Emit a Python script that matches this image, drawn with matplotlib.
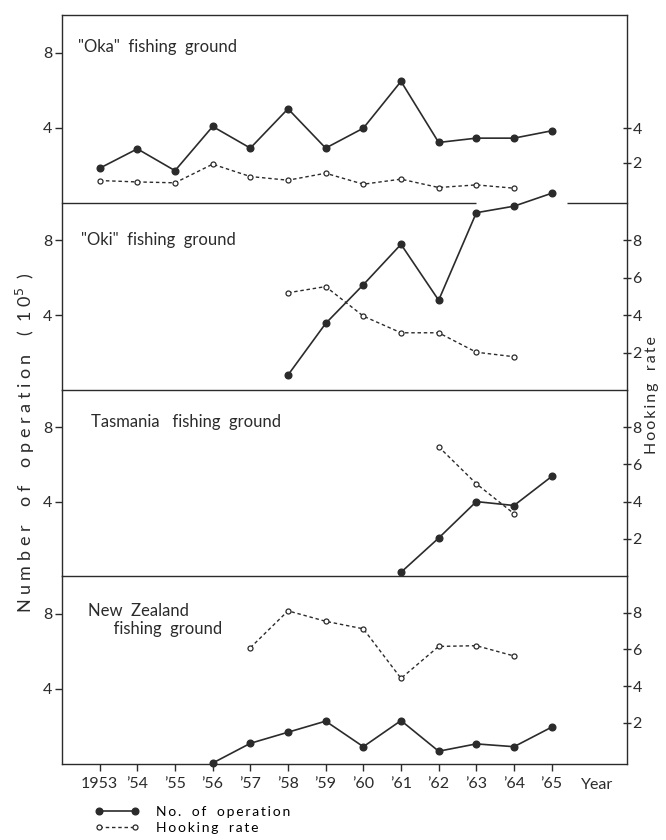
"""
Number of operations and hooking rate by fishing ground, 1953-1965.
Four stacked panels sharing the year axis; left scale = operations (10^5),
right scale = hooking rate.
"""

import matplotlib
matplotlib.use("Agg")
import matplotlib.pyplot as plt
from matplotlib.lines import Line2D

plt.rcParams.update({
    "font.family": ["Lato", "DejaVu Sans"],
    "font.size": 11,
    "xtick.labelsize": 11.5,
    "ytick.labelsize": 11.5,
    "axes.linewidth": 1.0,
})

INK = "#2b2b2b"

years = list(range(1953, 1966))
year_labels = ["1953", "’54", "’55", "’56", "’57", "’58", "’59",
               "’60", "’61", "’62", "’63", "’64", "’65"]

grounds = ['"Oka"  fishing  ground', '"Oki"  fishing  ground',
           "Tasmania   fishing  ground", "New  Zealand\n      fishing  ground"]

# No. of operation (10^5)
oka_ops_years = years
oka_ops = [1.85, 2.88, 1.72, 4.07, 2.92, 5.01, 2.92, 3.98, 6.47, 3.22, 3.45, 3.45, 3.84]
oki_ops_years = [1958, 1959, 1960, 1961, 1962, 1963, 1964, 1965]
oki_ops = [0.8, 3.56, 5.63, 7.79, 4.8, 9.48, 9.83, 10.52]
tas_ops_years = [1961, 1962, 1963, 1964, 1965]
tas_ops = [0.2, 2.04, 4.0, 3.79, 5.35]
nz_ops_years = [1956, 1957, 1958, 1959, 1960, 1961, 1962, 1963, 1964, 1965]
nz_ops = [0.05, 1.1, 1.69, 2.28, 0.92, 2.31, 0.68, 1.07, 0.92, 1.96]

# Hooking rate
oka_hook_years = years[:-1]
oka_hook = [0.99, 0.91, 0.86, 1.93, 1.22, 1.01, 1.41, 0.78, 1.07, 0.59, 0.74, 0.55]
oki_hook_years = [1958, 1959, 1960, 1961, 1962, 1963, 1964]
oki_hook = [5.2, 5.53, 3.95, 3.06, 3.06, 2.02, 1.78]
tas_hook_years = [1962, 1963, 1964]
tas_hook = [6.95, 4.96, 3.35]
nz_hook_years = [1957, 1958, 1959, 1960, 1961, 1962, 1963, 1964]
nz_hook = [6.09, 8.1, 7.53, 7.12, 4.42, 6.16, 6.2, 5.64]

ops_series = [(oka_ops_years, oka_ops), (oki_ops_years, oki_ops),
              (tas_ops_years, tas_ops), (nz_ops_years, nz_ops)]
hook_series = [(oka_hook_years, oka_hook), (oki_hook_years, oki_hook),
               (tas_hook_years, tas_hook), (nz_hook_years, nz_hook)]

left_ticks = [4, 8]
right_ticks = [[2, 4], [2, 4, 6, 8], [2, 4, 6, 8], [2, 4, 6, 8]]
right_lims = [(-0.3, 10.5), (0, 10), (0, 10), (-0.25, 10)]

# title anchor (axes fraction) per panel
title_x = [0.028, 0.034, 0.051, 0.046]
title_y = [0.83, 0.80, 0.83, 0.766]


def spaced(s, gap=" "):
    # the original lettering is widely tracked
    return gap.join(s)


fig = plt.figure(figsize=(6.66, 8.4), dpi=100)

L, R = 62 / 666, 627 / 666
edges_px = [15, 203, 390, 576, 764]
XLIM = (1952, 1967)
GAP = (1963.0, 1965.4)   # break in the Oka/Oki boundary where the Oki line passes

solid_kw = dict(color=INK, lw=1.2, marker="o", ms=4.8, mfc=INK, mec=INK)
dash_kw = dict(color=INK, lw=1.0, ls=(0, (2.5, 2)), marker="o", ms=3.6,
               mfc="white", mec=INK, mew=0.9)

for i in range(4):
    top = 1 - edges_px[i] / 840
    bot = 1 - edges_px[i + 1] / 840
    ax = fig.add_axes([L, bot, R - L, top - bot])
    ax.set_xlim(*XLIM)
    ax.set_ylim(0, 10)
    ax.set_facecolor("none")
    for s in ("left", "right", "top", "bottom"):
        ax.spines[s].set_color(INK)
    ax.spines["top"].set_visible(i == 0)
    ax.spines["bottom"].set_visible(i == 3)

    ax.set_yticks(left_ticks)
    ax.tick_params(axis="y", direction="out", length=5, width=1, pad=2, colors=INK)

    tw = ax.twinx()
    tw.set_ylim(*right_lims[i])
    tw.set_yticks(right_ticks[i])
    tw.tick_params(axis="y", direction="inout", length=6, width=1, pad=1, colors=INK)
    for s in tw.spines.values():
        s.set_visible(False)

    x, y = ops_series[i]
    ax.plot(x, y, clip_on=False, zorder=5, **solid_kw)
    hx, hy = hook_series[i]
    tw.plot(hx, hy, clip_on=False, zorder=4, **dash_kw)

    ax.text(title_x[i], title_y[i], grounds[i], transform=ax.transAxes,
            fontsize=12, ha="left", va="center", color=INK, linespacing=1.2)

    if i == 1:
        ax.hlines([10, 10], [XLIM[0], GAP[1]], [GAP[0], XLIM[1]], color=INK,
                  lw=1.0, clip_on=False, zorder=6)
    elif i > 1:
        ax.axhline(10, color=INK, lw=1.0, clip_on=False, zorder=6)

    if i < 3:
        ax.set_xticks([])
    else:
        ax.set_xticks(years)
        ax.set_xticklabels(year_labels)
        ax.tick_params(axis="x", direction="out", length=5, width=1, pad=4,
                       colors=INK)
        ax.text(1966.2, -0.075, "Year", transform=ax.get_xaxis_transform(),
                ha="center", va="top", fontsize=11.5, color=INK)

fig.text(25 / 666, 1 - 443 / 840,
         spaced("Number") + "    " + spaced("of") + "    " + spaced("operation")
         + "    (  1 0$^5$  )",
         rotation=90, ha="center", va="center", fontsize=13, color=INK)
fig.text(652 / 666, 1 - 395 / 840,
         spaced("Hooking", "\u2009") + "   " + spaced("rate", "\u2009"),
         rotation=90, ha="center", va="center", fontsize=11.5, color=INK)

handles = [Line2D([], [], **solid_kw), Line2D([], [], **dash_kw)]
fig.legend(handles, [spaced("No.", "\u2009") + "   " + spaced("of", "\u2009")
                     + "   " + spaced("operation", "\u2009"),
                     spaced("Hooking", "\u2009") + "   " + spaced("rate", "\u2009")],
           loc="upper left", bbox_to_anchor=(95 / 666, 1 - 806 / 840),
           frameon=False, numpoints=2, handlelength=3.2, handletextpad=1.2,
           labelspacing=0.3, fontsize=10, borderpad=0, borderaxespad=0)

fig.savefig("out.png", dpi=100)
